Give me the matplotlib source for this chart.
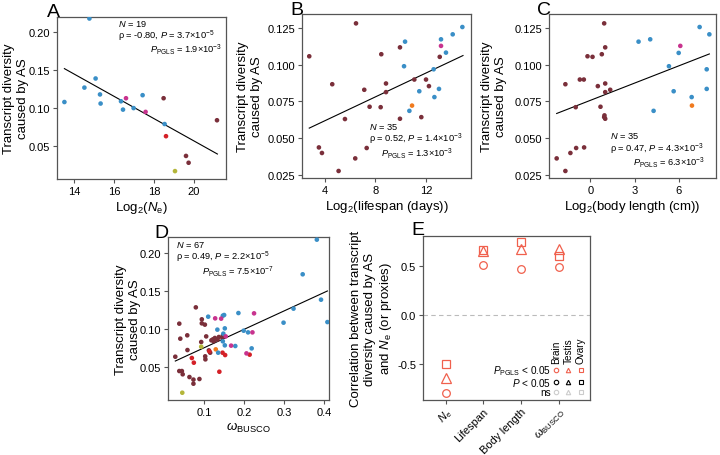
import numpy as np
import matplotlib
matplotlib.use('Agg')
from matplotlib import pyplot as plt

plt.rcParams['font.family'] = ['Liberation Sans', 'DejaVu Sans']
plt.rcParams['mathtext.fontset'] = 'custom'
plt.rcParams['mathtext.rm'] = 'Liberation Sans'
plt.rcParams['mathtext.it'] = 'Liberation Sans:italic'
plt.rcParams['mathtext.bf'] = 'Liberation Sans:bold'
plt.rcParams['axes.unicode_minus'] = False

palette = {'blue': '#3A8FC7', 'maroon': '#7A2F3A', 'magenta': '#C8338E',
           'red': '#D42027', 'orange': '#F07A1E', 'olive': '#B4B63A'}

# panel A : log2(Ne)
a_x = [13.52, 14.77, 14.52, 15.08, 15.30, 15.33, 16.35, 16.45, 16.98, 17.43, 18.53,
       16.60, 17.58, 18.48, 18.60, 19.60, 19.73, 19.05, 21.15]
a_y = [0.108, 0.218, 0.127, 0.139, 0.118, 0.106, 0.109, 0.098, 0.100, 0.117, 0.079,
       0.113, 0.095, 0.113, 0.063, 0.037, 0.028, 0.017, 0.084]
a_grp = ['blue'] * 11 + ['magenta'] * 2 + ['maroon', 'red', 'maroon', 'maroon', 'olive', 'maroon']
a_fit_x = [13.52, 21.17]
a_fit_y = [0.152, 0.0395]

# panel B : log2(lifespan)
b_x = [2.79, 6.47, 4.60, 3.55, 3.79, 5.10, 5.60, 6.41, 7.12, 7.31, 7.54, 8.41, 8.83, 8.83,
       8.46, 9.93, 9.93, 11.06, 11.98, 12.21, 11.61, 13.06,
       10.33, 10.25, 10.67, 11.45, 12.58, 12.64, 13.00, 13.16, 13.55, 14.08, 14.84,
       13.16, 10.88]
b_y = [0.1059, 0.1284, 0.0868, 0.0436, 0.0398, 0.0275, 0.0630, 0.0361, 0.0830, 0.0432,
       0.0714, 0.0711, 0.0873, 0.0814, 0.1073, 0.1120, 0.0632, 0.0900, 0.0900, 0.0855,
       0.0643, 0.1055,
       0.1159, 0.0991, 0.0686, 0.0820, 0.0970, 0.0780, 0.0836, 0.1175, 0.1084, 0.1209,
       0.1259, 0.1130, 0.0722]
b_grp = ['maroon'] * 22 + ['blue'] * 11 + ['magenta', 'orange']
b_fit_x = [2.79, 14.89]
b_fit_y = [0.0568, 0.1064]

# panel C : log2(body length)
c_x = [-2.29, -1.70, -1.70, -1.36, -0.97, -1.00, -0.43, -0.72, -0.45, -0.20, 0.14, 0.50,
       0.68, 0.77, 0.93, 1.00, 1.00, 1.00, 0.93, 1.00, 0.95, 1.34,
       3.26, 4.05, 4.28, 5.32, 5.64, 5.98, 6.86, 7.40, 7.88, 7.88, 8.06,
       6.09, 6.88]
c_y = [0.0361, 0.0275, 0.0868, 0.0398, 0.0432, 0.0711, 0.0436, 0.0900, 0.0900, 0.1059,
       0.1055, 0.0855, 0.0714, 0.1073, 0.1284, 0.1120, 0.0873, 0.0814, 0.0643, 0.0632,
       0.0655, 0.0830,
       0.1159, 0.1175, 0.0686, 0.0991, 0.0820, 0.1082, 0.0780, 0.1259, 0.0970, 0.0836,
       0.1209, 0.1130, 0.0722]
c_grp = ['maroon'] * 22 + ['blue'] * 11 + ['magenta', 'orange']
c_fit_x = [-2.29, 8.06]
c_fit_y = [0.0668, 0.1075]

# panel D : omega BUSCO
d_x = [0.0275, 0.0375, 0.040, 0.0375, 0.044, 0.046, 0.058, 0.0575, 0.063, 0.073, 0.073,
       0.079, 0.088, 0.0925, 0.094, 0.094, 0.1017, 0.1025, 0.103, 0.105, 0.1117, 0.115,
       0.118, 0.1217, 0.124, 0.1267, 0.1333, 0.1367, 0.1458, 0.1467,
       0.069, 0.074, 0.113, 0.138, 0.146, 0.1525, 0.214,
       0.129, 0.0925, 0.045,
       0.110, 0.133, 0.135, 0.1467, 0.150, 0.1517, 0.148, 0.1467, 0.1517, 0.1858, 0.178,
       0.199, 0.210, 0.219, 0.299, 0.324, 0.347, 0.3825, 0.393, 0.409,
       0.1275, 0.1425, 0.154, 0.1675, 0.206, 0.221, 0.225]
d_y = [0.0632, 0.1068, 0.0870, 0.0443, 0.0443, 0.0400, 0.0720, 0.0914, 0.0364, 0.0330,
       0.0276, 0.1283, 0.0338, 0.0826, 0.1125, 0.1072, 0.1055, 0.0637, 0.0597, 0.0900,
       0.0716, 0.0685, 0.0848, 0.0861, 0.0835, 0.0879, 0.0857, 0.0892, 0.0883, 0.0910,
       0.0615, 0.0553, 0.0703, 0.0434, 0.0685, 0.0654, 0.0659,
       0.0729, 0.0764, 0.0157,
       0.1160, 0.0989, 0.0685, 0.1173, 0.1182, 0.1006, 0.0936, 0.0835, 0.0782, 0.1208,
       0.0773, 0.0975, 0.0953, 0.0742, 0.1081, 0.1266, 0.1719, 0.2176, 0.1384, 0.1089,
       0.1138, 0.1134, 0.0900, 0.0778, 0.0676, 0.0953, 0.1204]
d_grp = ['maroon'] * 30 + ['red'] * 7 + ['orange', 'olive', 'olive'] + ['blue'] * 20 + ['magenta'] * 7
d_fit_x = [0.0275, 0.409]
d_fit_y = [0.0575, 0.1499]

# panel E : correlations per tissue
e_cats = ['$N_{\\rm e}$', 'Lifespan', 'Body length', '$\\omega_{\\rm BUSCO}$']
e_brain = [-0.80, 0.52, 0.47, 0.49]
e_testis = [-0.65, 0.66, 0.68, 0.68]
e_ovary = [-0.51, 0.67, 0.75, 0.61]

W, H = 720, 456
fig = plt.figure(figsize=(W / 100, H / 100), dpi=100)


def box(l, t, r, b):
    return fig.add_axes([l / W, 1 - b / H, (r - l) / W, (b - t) / H])


def style(ax):
    for s in ax.spines.values():
        s.set_color('#555555')
        s.set_linewidth(0.9)
    ax.tick_params(length=3, width=0.8, color='#555555', labelsize=8, pad=2)


ylab = 'Transcript diversity\ncaused by AS'
fs_note = 6.7


def scatter_panel(ax, x, y, grp, fx, fy, xl, notes, labx):
    ax.scatter(x, y, c=[palette[g] for g in grp], s=11, linewidths=0, zorder=3)
    ax.plot(fx, fy, color='black', lw=0.8, zorder=2)
    ax.set_xlabel(xl, fontsize=9.5, labelpad=2)
    ax.set_ylabel(ylab, fontsize=9.5)
    ax.yaxis.set_label_coords(labx, 0.5)
    (x1, y1, t1), (x2, y2, t2), (x3, y3, t3) = notes
    ax.text(x1, y1, t1, transform=ax.transAxes, fontsize=fs_note, va='center', ha='left')
    ax.text(x1, y2, t2, transform=ax.transAxes, fontsize=fs_note, va='center', ha='left')
    ax.text(x3, y3, t3, transform=ax.transAxes, fontsize=fs_note, va='center', ha='right')
    style(ax)


# A
ax = box(57, 18, 226, 180)
scatter_panel(ax, a_x, a_y, a_grp, a_fit_x, a_fit_y, 'Log$_2$($N_{\\rm e}$)',
              [(0.363, 0.962, '$N$ = 19'), (0, 0.887, 'ρ = -0.80, $P$ = 3.7×10$^{-5}$'),
               (0.975, 0.803, '$P_{\\rm PGLS}$ = 1.9×10$^{-3}$')], -0.165)
ax.set_xlim(13.15, 21.6)
ax.set_ylim(0.0066, 0.22)
ax.set_xticks([14, 16, 18, 20])
ax.set_yticks([0.05, 0.10, 0.15, 0.20])
ax.set_yticklabels(['0.05', '0.10', '0.15', '0.20'])

# B
ax = box(302, 15, 471, 179)
scatter_panel(ax, b_x, b_y, b_grp, b_fit_x, b_fit_y, 'Log$_2$(lifespan (days))',
              [(0.398, 0.315, '$N$ = 35'), (0, 0.240, 'ρ = 0.52, $P$ = 1.4×10$^{-3}$'),
               (0.892, 0.156, '$P_{\\rm PGLS}$ = 1.3×10$^{-3}$')], -0.23)
ax.set_xlim(2.22, 15.52)
ax.set_ylim(0.0227, 0.1348)
ax.set_xticks([4, 8, 12])
ax.set_yticks([0.025, 0.050, 0.075, 0.100, 0.125])
ax.set_yticklabels(['0.025', '0.050', '0.075', '0.100', '0.125'])

# C
ax = box(549, 15, 716, 179)
scatter_panel(ax, c_x, c_y, c_grp, c_fit_x, c_fit_y, 'Log$_2$(body length (cm))',
              [(0.365, 0.262, '$N$ = 35'), (0, 0.183, 'ρ = 0.47, $P$ = 4.3×10$^{-3}$'),
               (0.936, 0.098, '$P_{\\rm PGLS}$ = 6.3×10$^{-3}$')], -0.25)
ax.set_xlim(-2.81, 8.51)
ax.set_ylim(0.0227, 0.1348)
ax.set_xticks([0, 3, 6])
ax.set_yticks([0.025, 0.050, 0.075, 0.100, 0.125])
ax.set_yticklabels(['0.025', '0.050', '0.075', '0.100', '0.125'])

# D
ax = box(168, 238, 329, 401)
scatter_panel(ax, d_x, d_y, d_grp, d_fit_x, d_fit_y, '$\\omega_{\\rm BUSCO}$',
              [(0.048, 0.958, '$N$ = 67'), (0, 0.882, 'ρ = 0.49, $P$ = 2.2×10$^{-5}$'),
               (0.66, 0.795, '$P_{\\rm PGLS}$ = 7.5×10$^{-7}$')], -0.168)
ax.set_xlim(0.0092, 0.413)
ax.set_ylim(0.0061, 0.2211)
ax.set_xticks([0.1, 0.2, 0.3, 0.4])
ax.set_xticklabels(['0.1', '0.2', '0.3', '0.4'])
ax.set_yticks([0.05, 0.10, 0.15, 0.20])
ax.set_yticklabels(['0.05', '0.10', '0.15', '0.20'])

# E
ax = box(423, 237, 590, 401)
ec = '#F0604D'
pos = np.arange(1, len(e_cats) + 1)
ax.axhline(0, color='#bbbbbb', lw=0.8, ls=(0, (4, 3)), zorder=1)
ax.plot(pos, e_brain, 'o', mfc='none', mec=ec, ms=5.5, mew=0.9, ls='none')
ax.plot(pos, e_testis, '^', mfc='none', mec=ec, ms=6.5, mew=0.9, ls='none')
ax.plot(pos, e_ovary, 's', mfc='none', mec=ec, ms=5.5, mew=0.9, ls='none')
ax.set_xlim(0.405, 4.82)
ax.set_ylim(-0.876, 0.814)
ax.set_yticks([-0.5, 0.0, 0.5])
ax.set_yticklabels(['-0.5', '0.0', '0.5'])
ax.set_xticks(pos)
ax.set_xticklabels(e_cats, rotation=45, ha='right', rotation_mode='anchor')
ax.set_ylabel('Correlation between transcript\ndiversity caused by AS\nand $N_{\\rm e}$ (or proxies)',
              fontsize=9.5)
ax.yaxis.set_label_coords(-0.175, 0.5)
style(ax)
ax.tick_params(axis='x', labelsize=8.0, pad=1)

# legend drawn inside panel E
leg_rows = ['$P_{\\rm PGLS}$ < 0.05', '$P$ < 0.05', 'ns']
leg_cols = ['#F0604D', 'black', '#cccccc']
leg_y = [0.185, 0.112, 0.051]
col_x = [0.796, 0.870, 0.944]
for lab, col, yy in zip(leg_rows, leg_cols, leg_y):
    ax.text(0.765, yy, lab, transform=ax.transAxes, ha='right', va='center', fontsize=7.2)
    for mk, xx in zip(['o', '^', 's'], col_x):
        ax.plot(xx, yy, mk, transform=ax.transAxes, mfc='none', mec=col, ms=3.2, mew=0.8)
for name, xx in zip(['Brain', 'Testis', 'Ovary'], col_x):
    ax.text(xx, 0.225, name, transform=ax.transAxes, rotation=90, ha='center', va='bottom',
            fontsize=7.2)

# panel letters
for letter, px, py in [('A', 47, 17), ('B', 290, 15), ('C', 537, 15), ('D', 154, 238), ('E', 411, 235)]:
    fig.text(px / W, 1 - py / H, letter, fontsize=14, ha='left', va='baseline')

fig.savefig('out.png', dpi=100)
